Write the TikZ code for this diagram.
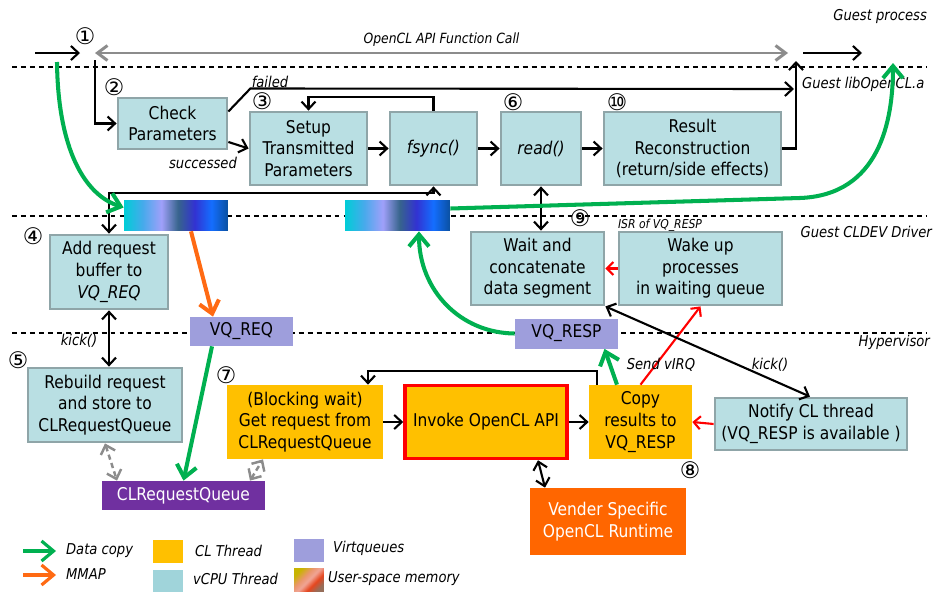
\documentclass[tikz,border=0pt]{standalone}
\usepackage{fontspec}
\setmainfont{DejaVu Sans}[FakeStretch=0.88]
\newfontfamily\numfont{DejaVu Sans}
\usetikzlibrary{arrows.meta, positioning, calc, shadings}
\definecolor{cVcpu}{RGB}{185,223,227}
\definecolor{cVcpuLine}{RGB}{143,165,168}
\definecolor{cVcpuKey}{RGB}{160,212,218}
\definecolor{cThread}{RGB}{255,192,0}
\definecolor{cVq}{RGB}{158,158,220}
\definecolor{cQueue}{RGB}{112,48,160}
\definecolor{cRuntime}{RGB}{255,102,0}
\definecolor{cCopy}{RGB}{0,176,80}
\definecolor{cMmap}{RGB}{255,106,19}
\definecolor{cApi}{RGB}{140,140,140}
% user-space memory stripes
\definecolor{mA}{RGB}{0,205,215}
\definecolor{mB}{RGB}{70,170,235}
\definecolor{mC}{RGB}{160,160,250}
\definecolor{mD}{RGB}{55,100,140}
\definecolor{mE}{RGB}{50,50,210}
\definecolor{mF}{RGB}{20,110,255}
\definecolor{mG}{RGB}{10,80,160}
\definecolor{kA}{RGB}{200,180,0}
\definecolor{kB}{RGB}{235,150,110}
\definecolor{kC}{RGB}{240,165,150}
\definecolor{kD}{RGB}{230,70,30}
\definecolor{kE}{RGB}{150,110,90}
\pgfdeclarehorizontalshading{usermem}{100bp}{color(0bp)=(mA); color(25bp)=(mA); color(34bp)=(mB); color(43bp)=(mC); color(51bp)=(mD); color(59bp)=(mE); color(67bp)=(mF); color(75bp)=(mG); color(100bp)=(mG)}
\pgfdeclarehorizontalshading{usermemkey}{100bp}{color(0bp)=(kA); color(25bp)=(kA); color(40bp)=(kB); color(50bp)=(kC); color(62bp)=(kD); color(75bp)=(kE); color(100bp)=(kE)}
\tikzset{
	vcpu/.style   ={rectangle, draw=cVcpuLine, line width=1.6pt, fill=cVcpu, align=center, inner sep=1pt},
	clthr/.style  ={rectangle, fill=cThread, align=center, inner sep=1pt},
	vq/.style     ={rectangle, fill=cVq, inner sep=1pt},
	umem/.style   ={rectangle, shade, shading=usermem, minimum height=0.62cm},
	keybox/.style ={rectangle, minimum width=0.6cm, minimum height=0.46cm, inner sep=0pt},
	num/.style    ={font=\numfont\fontsize{13}{13}\selectfont, inner sep=0pt},
	lbl/.style    ={font=\itshape\fontsize{8.5}{10}\selectfont, inner sep=1pt},
	sep/.style    ={line width=1.1pt, dash pattern=on 2.8pt off 2.3pt},
	flow/.style   ={-{Straight Barb[length=1.5mm,width=2.8mm]}, line width=1.2pt},
	dflow/.style  ={{Straight Barb[length=1.5mm,width=2.8mm]}-{Straight Barb[length=1.5mm,width=2.8mm]}, line width=1.2pt},
	irq/.style    ={-{Straight Barb[length=1.3mm,width=2.6mm]}, line width=1.2pt, red},
	apicall/.style={{Straight Barb[length=2mm,width=3mm]}-{Straight Barb[length=2mm,width=3mm]}, line width=1.7pt, cApi},
	qlink/.style  ={{Straight Barb[length=1.6mm,width=3mm]}-{Straight Barb[length=1.6mm,width=3mm]}, line width=1.4pt, cApi, dash pattern=on 3pt off 2pt},
	datacopy/.style={-{Straight Barb[length=2.4mm,width=4mm]}, line width=2.3pt, cCopy},
	mmap/.style   ={-{Straight Barb[length=2.4mm,width=4mm]}, line width=2.3pt, cMmap},
}

\begin{document}
\begin{tikzpicture}[x=0.02cm, y=-0.02cm, font=\fontsize{10}{12.3}\selectfont]
	\useasboundingbox (0,0) rectangle (938,592);
	% layer borders
	\draw[sep] (12,67) -- (927,67);
	\draw[sep] (12,216) -- (927,216);
	\draw[sep] (12,333) -- (927,333);
	\node[lbl, anchor=east] (lyproc) at (929,17) {Guest process};
	\node[lbl, anchor=west] (lylib) at (800,84) {Guest libOpenCL.a};
	\node[lbl, anchor=east] (lydrv) at (934,232) {Guest CLDEV Driver};
	\node[lbl, anchor=east] (lyhyp) at (932,342) {Hypervisor};

	% guest library
	\node[vcpu, minimum width=2.18cm, minimum height=1.02cm] (chk) at (172.5,123.5) {Check\\Parameters};
	\node[vcpu, minimum width=2.34cm, minimum height=1.46cm] (setup) at (308.5,148.5) {Setup\\Transmitted\\Parameters};
	\node[vcpu, minimum width=1.74cm, minimum height=1.46cm] (fsync) at (433.5,148.5) {\itshape fsync()};
	\node[vcpu, minimum width=1.6cm, minimum height=1.46cm] (read) at (541,148.5) {\itshape read()};
	\node[vcpu, minimum width=3.54cm, minimum height=1.46cm] (result) at (692.5,148.5) {Result\\Reconstruction\\(return/side effects)};

	% guest driver
	\node[umem, minimum width=2.08cm] (mem1) at (176,215.5) {};
	\node[umem, minimum width=2.1cm] (mem2) at (397.5,215.5) {};
	\node[vcpu, minimum width=2.36cm, minimum height=1.48cm] (add) at (109,272) {Add request\\buffer to\\\textit{VQ\_REQ}};
	\node[vcpu, minimum width=2.66cm, minimum height=1.46cm] (wait) at (537.5,268.5) {Wait and\\concatenate\\data segment};
	\node[vcpu, minimum width=3.26cm, minimum height=1.46cm] (wake) at (700.5,268.5) {Wake up\\processes\\in waiting queue};
	\node[vq, minimum width=2.06cm, minimum height=0.58cm] (vqreq) at (241.5,331.5) {VQ\_REQ};
	\node[vq, minimum width=2.06cm, minimum height=0.6cm] (vqresp) at (566.5,333.5) {VQ\_RESP};

	% hypervisor
	\node[vcpu, minimum width=3.08cm, minimum height=1.48cm] (rebuild) at (105,405) {Rebuild request\\and store to\\CLRequestQueue};
	\node[clthr, minimum width=3.12cm, minimum height=1.48cm] (blocking) at (305,422) {(Blocking wait)\\Get request from\\CLRequestQueue};
	\node[clthr, draw=red, line width=2pt, minimum width=3.24cm, minimum height=1.46cm] (invoke) at (486,422) {Invoke OpenCL API};
	\node[clthr, minimum width=2.06cm, minimum height=1.48cm] (copy) at (640.5,422) {Copy\\results to\\VQ\_RESP};
	\node[vcpu, minimum width=3.84cm, minimum height=1.04cm] (notify) at (811,424) {Notify CL thread\\(VQ\_RESP is available )};
	\node[rectangle, fill=cQueue, text=white, minimum width=3.26cm, minimum height=0.58cm] (clq) at (183.5,495.5) {CLRequestQueue};
	\node[rectangle, fill=cRuntime, text=white, align=center, minimum width=3.12cm, minimum height=1.34cm] (vender) at (608,521.5) {Vender Specific\\OpenCL Runtime};

	% step numbers
	\foreach \n/\x/\y in {①/85/36, ②/114/87, ③/262/101, ④/33/236, ⑤/18/360, ⑥/513/102, ⑦/226/375, ⑧/690/470, ⑨/580/218, ⑩/617/102}
		\node[num] at (\x,\y) {\n};

	% API call
	\coordinate (in0) at (35,53);
	\coordinate (in1) at (80,53);
	\coordinate (api0) at (95,53);
	\coordinate (api1) at (788,53);
	\coordinate (out0) at (803,53);
	\coordinate (out1) at (862,53);
	\coordinate (ent) at (95,60);
	\coordinate (ret) at (796,61);
	\coordinate (fail) at (794,89);
	\coordinate (bus) at (109,193);
	\draw[flow] (in0) -- (in1);
	\draw[apicall] (api0) -- node[lbl, text=black, font=\itshape\fontsize{8}{10}\selectfont, above=2pt] (apilbl) {OpenCL API Function Call} (api1);
	\draw[flow] (out0) -- (out1);

	% library flow
	\draw[flow] (ent) |- (chk.west);
	\draw[flow] ([yshift=-0.37cm]chk.east) -- (setup.west);
	\node[lbl] (oklbl) at (203,163) {successed};
	\draw[flow] ([yshift=0.24cm]chk.east) -- ++(22,-23) -- (fail);
	\node[lbl] (faillbl) at (270,82) {failed};
	\draw[flow] (setup) -- (fsync);
	\draw[flow] (fsync) -- (read);
	\draw[flow] (read) -- (result);
	\draw[flow] (fsync.north) -- ++(0,-14) -| (setup.north);
	\draw[flow] (result.east) -| (ret);
	\draw[dflow] (add.north) -- (bus) -| (fsync.south);
	\draw[dflow] (read.south) -- (read.south |- wait.north);

	% driver and hypervisor
	\draw[dflow] (add.south) -- (add.south |- rebuild.north);
	\node[lbl] (kick1) at (79,341) {kick()};
	\draw[mmap] ([xshift=0.3cm]mem1.south) -- ([xshift=-0.57cm]vqreq.north);
	\draw[datacopy] ([xshift=-0.59cm]vqreq.south) -- (clq.north);
	\draw[qlink] (rebuild.south) -- ([xshift=-1.33cm]clq.north);
	\draw[qlink] ([xshift=1.33cm]clq.north) -- ([xshift=-0.84cm]blocking.south);
	\draw[flow] (blocking) -- (invoke);
	\draw[flow] (invoke) -- (copy);
	\draw[flow] ([xshift=-0.87cm]copy.north) -- ++(0,-14) -| ([xshift=1.26cm]blocking.north);
	\draw[dflow] ([xshift=1.04cm]invoke.south) -- ([xshift=-1.26cm]vender.north);
	\draw[irq] (notify.west) -- (copy.east);
	\draw[datacopy] ([xshift=-0.47cm]copy.north) -- ([xshift=0.76cm]vqresp.south);
	\draw[irq] (copy.north) -- (wake.south);
	\node[lbl] (irqlbl) at (661,365) {Send vIRQ};
	\draw[dflow] (wait.south east) -- ([xshift=-0.02cm]notify.north);
	\node[lbl] (kick2) at (770,365) {kick()};
	\draw[irq] (wake.west) -- (wait.east);
	\node[lbl, font=\itshape\fontsize{7}{8}\selectfont] (isrlbl) at (660,225) {ISR of VQ\_RESP};

	% data copies
	\coordinate (gin) at (57,62);
	\coordinate (gout) at (893,63);
	\draw[datacopy] (gin) .. controls (58,150) and (85,195) .. ([yshift=0.16cm]mem1.west);
	\draw[datacopy] (vqresp.west) .. controls (460,333) and (419,290) .. ([xshift=0.43cm]mem2.south);
	\draw[datacopy] ([yshift=0.14cm]mem2.east) -- (800,198) .. controls (880,195) and (893,120) .. (gout);

	% legend
	\coordinate (k1a) at (23,551);
	\coordinate (k1b) at (56,551);
	\coordinate (k2a) at (23,575);
	\coordinate (k2b) at (56,575);
	\draw[datacopy, line width=1.8pt] (k1a) -- (k1b);
	\draw[mmap, line width=1.8pt] (k2a) -- (k2b);
	\node[lbl, anchor=west] (kcopy) at (64,551) {Data copy};
	\node[lbl, anchor=west] (kmmap) at (64,574) {MMAP};
	\node[keybox, fill=cThread] (kthr) at (168,551) {};
	\node[lbl, anchor=west] at (193,551) {CL Thread};
	\node[keybox, fill=cVcpuKey] (kvcpu) at (168,581) {};
	\node[lbl, anchor=west] at (191,579) {vCPU Thread};
	\node[keybox, fill=cVq] (kvq) at (309,550) {};
	\node[lbl, anchor=west] at (331,548) {Virtqueues};
	\node[keybox, shade, shading=usermemkey, shading angle=-45] (kmem) at (309,580) {};
	\node[lbl, anchor=west] at (326,579) {User-space memory};
\end{tikzpicture}
\end{document}
